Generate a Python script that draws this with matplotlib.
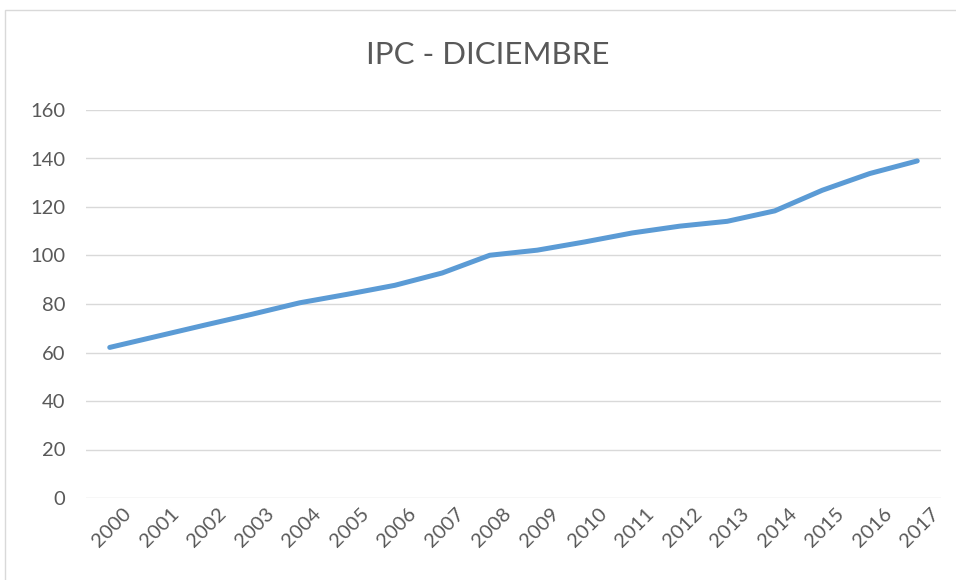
import matplotlib.pyplot as plt
from matplotlib.patches import Rectangle
from matplotlib.transforms import ScaledTranslation

years = [str(y) for y in range(2000, 2018)]
ipc = [62.1, 66.7, 71.3, 75.8, 80.5, 84.0, 87.7, 92.8, 100.1,
       102.2, 105.6, 109.3, 112.1, 114.1, 118.4, 126.9, 133.8, 139.0]
yticks = [0, 20, 40, 60, 80, 100, 120, 140, 160]

plt.rcParams['font.family'] = ['Lato', 'DejaVu Sans']
TEXT = '#595959'

fig = plt.figure(figsize=(9.56, 5.8), dpi=100)
ax = fig.add_axes([86/956, 1 - 498/580, 855/956, 388/580])

x = list(range(len(years)))
ax.plot(x, ipc, color='#5B9BD5', linewidth=3.6, solid_capstyle='round', solid_joinstyle='round', zorder=3)

ax.set_xlim(-0.5, len(years) - 0.5)
ax.set_ylim(0, 160)
ax.set_yticks(yticks)
ax.set_xticks(x)
ax.set_xticklabels(years, rotation=45, ha='right', rotation_mode='anchor')
ax.grid(axis='y', color='#D9D9D9', linewidth=1.0)
ax.set_axisbelow(True)
for s in ax.spines.values():
    s.set_visible(False)
ax.tick_params(axis='y', length=0, pad=15, labelsize=14.5, labelcolor=TEXT)
ax.tick_params(axis='x', length=0, pad=5, labelsize=14.5, labelcolor=TEXT)
for lab in ax.get_xticklabels():
    lab.set_transform(lab.get_transform() + ScaledTranslation(0.13, 0, fig.dpi_scale_trans))

fig.text(488/956, 1 - 55/580, 'IPC - DICIEMBRE', ha='center', va='center', fontsize=22.5, color=TEXT)

fig.patches.append(Rectangle((5/956, -0.05), 1.2, 1 - 10/580 + 0.05, transform=fig.transFigure,
                             fill=False, edgecolor='#D9D9D9', linewidth=1.0))

fig.savefig('out.png', dpi=100)
